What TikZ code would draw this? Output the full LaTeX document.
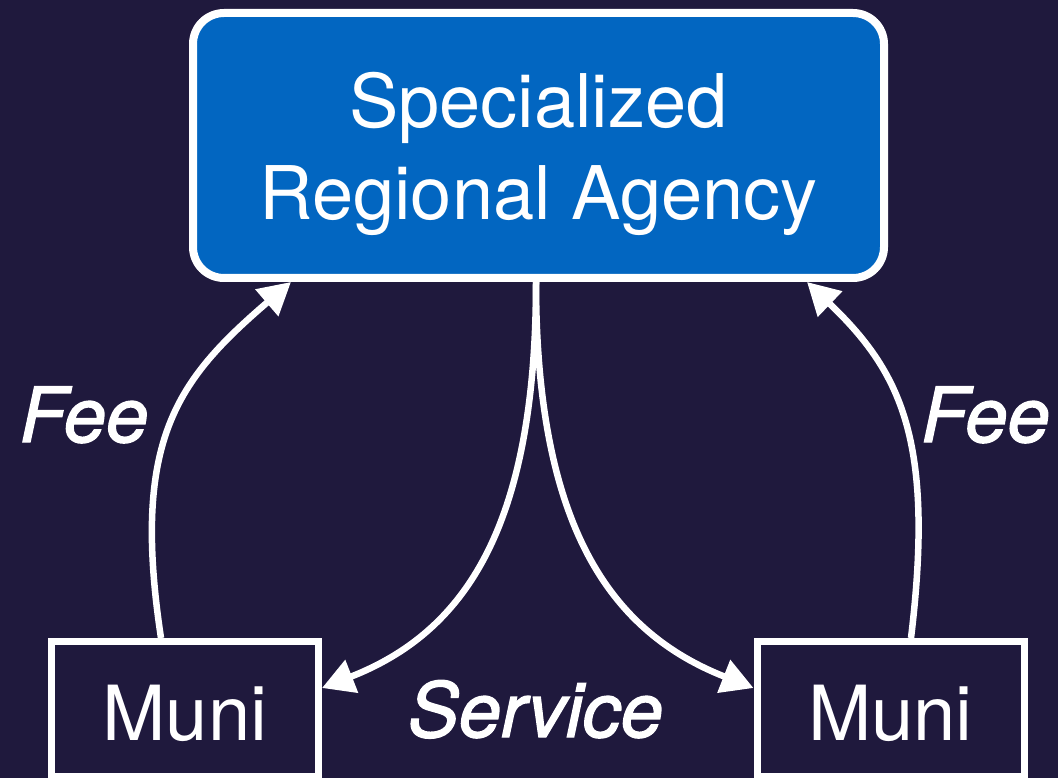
\documentclass[tikz,border=0pt]{standalone}
\usepackage{fontspec}
\setmainfont{TeX Gyre Heros}
\newfontfamily\lblfont[FakeBold=1.8]{TeX Gyre Heros}
\usetikzlibrary{arrows.meta,calc}
\definecolor{bgcol}{RGB}{31,25,61}
\definecolor{agencyblue}{RGB}{2,102,193}
\tikzset{
  agencybox/.style={draw=white, line width=8pt, fill=agencyblue, rounded corners=31pt,
    minimum width=691pt, minimum height=265pt, inner sep=0pt},
  munibox/.style={draw=white, line width=7pt, fill=bgcol,
    minimum width=267pt, minimum height=135pt, inner sep=0pt},
  bigtext/.style={text=white, font=\fontsize{74}{92}\selectfont, anchor=base, inner sep=0pt},
  munitext/.style={text=white, font=\fontsize{76}{90}\selectfont, anchor=base, inner sep=0pt},
  lbl/.style={text=white, font=\lblfont\fontsize{76}{90}\selectfont\itshape, anchor=base, inner sep=0pt},
  flow/.style={draw=white, line width=6.5pt, -{Triangle[length=32pt,width=34pt]}},
}
\begin{document}
\begin{tikzpicture}[x=1pt,y=-1pt]
\useasboundingbox (0,0) rectangle (1058,778);
\fill[bgcol] (0,0) rectangle (1058,778);

\node[agencybox] (agency) at (538.5,145.5) {};
\node[bigtext] (t1) at (538.5,128) {Specialized};
\node[bigtext] (t2) at (538.5,220) {Regional Agency};

\node[munibox] (munil) at (185,709) {};
\node[munitext] (ml) at (185,740) {Muni};
\node[munibox] (munir) at (890.5,709) {};
\node[munitext] (mr) at (890.5,740) {Muni};

\node[lbl] (feel) at (84,442) {Fee};
\node[lbl] (feer) at (985.5,442) {Fee};
\node[lbl] (serv) at (535.5,737) {Service};

% Fee arrows
\draw[flow] ([xshift=-24pt]munil.north) .. controls (131,440) and (177,380) .. ([xshift=-247.5pt]agency.south);
\draw[flow] ([xshift=20.5pt]munir.north) .. controls (935,440) and (900.6,371.7) .. ([xshift=268.5pt]agency.south);

% Service arrows
\draw[flow] ([xshift=-2.5pt]agency.south) .. controls (536,531) and (462.5,633) .. ([yshift=21pt]munil.east);
\draw[flow] ([xshift=-2.5pt]agency.south) .. controls (536,531) and (613.5,633) .. ([yshift=21pt]munir.west);
\end{tikzpicture}
\end{document}
